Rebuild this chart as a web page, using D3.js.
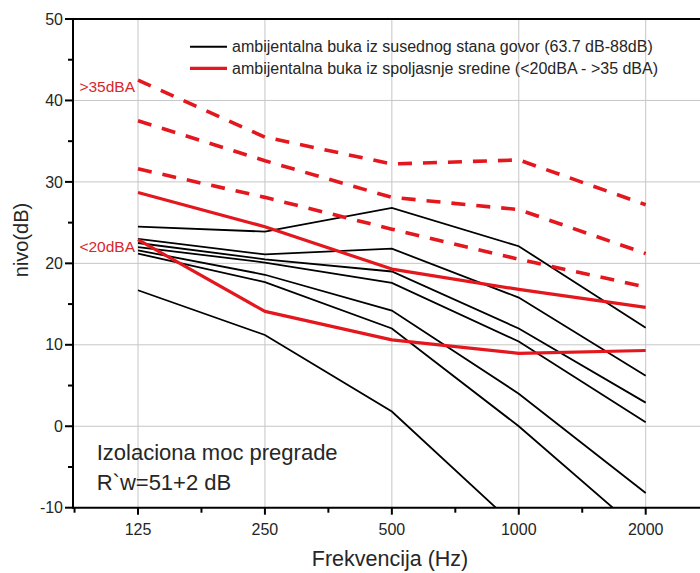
<!DOCTYPE html>
<html>
<head>
<meta charset="utf-8">
<script src="https://cdn.jsdelivr.net/npm/d3@7"></script>
<style>
  html, body { margin: 0; padding: 0; background: #fff; }
  svg { display: block; font-family: "Liberation Sans", Arial, sans-serif; }
</style>
</head>
<body>
<svg id="chart" width="700" height="573"></svg>
<script>
// ---- data ----
const freqs = [125, 250, 500, 1000, 2000];
const xTickLabels = ["125", "250", "500", "1000", "2000"];
const yTicks = [-10, 0, 10, 20, 30, 40, 50];

// black lines: neighbour apartment speech (63.7 dB - 88 dB)
const blackA = [24.5, 23.9, 26.8, 22.1, 12.1];
const blackB = [23.0, 21.1, 21.8, 15.8, 6.2];
const blackC = [22.5, 20.5, 19.0, 12.0, 2.9];
const blackD = [22.0, 20.1, 17.6, 10.4, 0.5];
const blackE = [21.6, 18.6, 14.2, 4.0, -8.2];
const blackF = [21.2, 17.7, 12.0, 0.0, -13.5];
const blackG = [16.7, 11.2, 1.8, -12.6, -27.0];

// red solid lines: outdoor ambient noise
const redSolidTop = [28.7, 24.5, 19.3, 16.8, 14.6];
const redSolidLow = [22.9, 14.1, 10.6, 8.95, 9.3];

// red dashed lines
const redDashTop = [42.5, 35.5, 32.2, 32.7, 27.2];
const redDashMid = [37.5, 32.6, 28.1, 26.6, 21.2];
const redDashLow = [31.6, 28.1, 24.2, 20.5, 17.1];

const legendLabels = [
  "ambijentalna buka iz susednog stana govor (63.7 dB-88dB)",
  "ambijentalna buka iz spoljasnje sredine (<20dBA - >35 dBA)"
];

// ---- layout ----
const svg = d3.select("#chart");
const W = 700;
const pLeft = 73, pTop = 19, pBottom = 507.7, pRight = 760;
const red = "#e3171d";
const txt = "#262626";

const x = d3.scaleLog().base(2).domain([125, 2000]).range([138, 645.7]);
const y = d3.scaleLinear().domain([-10, 50]).range([pBottom, pTop]);

// clip
svg.append("defs").append("clipPath").attr("id", "clip")
  .append("rect").attr("x", pLeft).attr("y", pTop).attr("width", pRight - pLeft).attr("height", pBottom - pTop);

// grid
const grid = svg.append("g");
grid.selectAll("line.v").data(freqs).join("line")
  .attr("x1", d => x(d)).attr("x2", d => x(d))
  .attr("y1", pTop).attr("y2", pBottom)
  .attr("stroke", "#c6c6c6").attr("stroke-width", 1);
grid.selectAll("line.h").data(yTicks.filter(d => d > -10 && d < 50)).join("line")
  .attr("x1", pLeft).attr("x2", W)
  .attr("y1", d => y(d)).attr("y2", d => y(d))
  .attr("stroke", "#c6c6c6").attr("stroke-width", 1);

// lines
const plot = svg.append("g").attr("clip-path", "url(#clip)");
const pts = arr => arr.map((v, i) => [freqs[i], v]);
const lineLin = d3.line().x(d => x(d[0])).y(d => y(d[1]));

const blacks = [blackA, blackB, blackC, blackD, blackE, blackF, blackG];
plot.selectAll("path.black").data(blacks).join("path")
  .attr("d", d => lineLin(pts(d)))
  .attr("fill", "none").attr("stroke", "#000").attr("stroke-width", 1.8);

plot.selectAll("path.dash").data([redDashTop, redDashMid, redDashLow]).join("path")
  .attr("d", d => lineLin(pts(d)))
  .attr("fill", "none").attr("stroke", red).attr("stroke-width", 3.6)
  .attr("stroke-dasharray", "14,11");

plot.selectAll("path.redsolid").data([redSolidTop, redSolidLow]).join("path")
  .attr("d", d => lineLin(pts(d)))
  .attr("fill", "none").attr("stroke", red).attr("stroke-width", 3.2)
  .attr("stroke-linejoin", "round");

// axes frame
svg.append("line").attr("x1", pLeft).attr("x2", W).attr("y1", pTop).attr("y2", pTop)
  .attr("stroke", "#000").attr("stroke-width", 2);
svg.append("line").attr("x1", pLeft).attr("x2", W).attr("y1", pBottom).attr("y2", pBottom)
  .attr("stroke", "#000").attr("stroke-width", 2);
svg.append("line").attr("x1", pLeft).attr("x2", pLeft).attr("y1", pTop - 1).attr("y2", pBottom + 1)
  .attr("stroke", "#000").attr("stroke-width", 2);

// y ticks
const yMinor = d3.range(-5, 50, 10);
svg.selectAll("line.ymaj").data(yTicks).join("line")
  .attr("x1", pLeft - 8).attr("x2", pLeft).attr("y1", d => y(d)).attr("y2", d => y(d))
  .attr("stroke", "#000").attr("stroke-width", 2);
svg.selectAll("line.ymin").data(yMinor).join("line")
  .attr("x1", pLeft - 5).attr("x2", pLeft).attr("y1", d => y(d)).attr("y2", d => y(d))
  .attr("stroke", "#000").attr("stroke-width", 2);
svg.selectAll("text.ylab").data(yTicks).join("text")
  .attr("x", pLeft - 10).attr("y", d => y(d)).attr("dy", "0.35em")
  .attr("text-anchor", "end").attr("font-size", 16).attr("fill", txt)
  .text(d => d);

// x ticks
const xMinor = [125 / Math.SQRT2].concat(freqs.map(f => f * Math.SQRT2));
svg.selectAll("line.xmaj").data(freqs).join("line")
  .attr("x1", d => x(d)).attr("x2", d => x(d)).attr("y1", pBottom).attr("y2", pBottom + 7)
  .attr("stroke", "#000").attr("stroke-width", 2);
svg.selectAll("line.xmin").data(xMinor).join("line")
  .attr("x1", d => x(d)).attr("x2", d => x(d)).attr("y1", pBottom).attr("y2", pBottom + 5)
  .attr("stroke", "#000").attr("stroke-width", 2);
svg.selectAll("text.xlab").data(freqs).join("text")
  .attr("x", d => x(d)).attr("y", 535)
  .attr("text-anchor", "middle").attr("font-size", 16).attr("fill", txt)
  .text((d, i) => xTickLabels[i]);

// axis titles
svg.append("text").attr("x", 390).attr("y", 566).attr("text-anchor", "middle")
  .attr("font-size", 21.5).attr("fill", txt).text("Frekvencija (Hz)");
svg.append("text").attr("transform", "translate(28,240) rotate(-90)").attr("text-anchor", "middle")
  .attr("font-size", 20).attr("fill", txt).text("nivo(dB)");

// end labels
svg.append("text").attr("x", 135).attr("y", 91.5).attr("text-anchor", "end")
  .attr("font-size", 15.5).attr("fill", "#d8262c").text(">35dBA");
svg.append("text").attr("x", 135).attr("y", 252).attr("text-anchor", "end")
  .attr("font-size", 15.5).attr("fill", "#d8262c").text("<20dBA");

// annotation
svg.append("text").attr("x", 96.7).attr("y", 460).attr("font-size", 22).attr("fill", txt)
  .text("Izolaciona moc pregrade");
svg.append("text").attr("x", 96.7).attr("y", 490).attr("font-size", 22).attr("fill", txt)
  .text("R`w=51+2 dB");

// legend
const leg = svg.append("g");
const legY = [46.7, 68.3];
const legStyle = [{c: "#000", w: 2}, {c: red, w: 3.2}];
legendLabels.forEach((t, i) => {
  leg.append("line").attr("x1", 190).attr("x2", 227).attr("y1", legY[i]).attr("y2", legY[i])
    .attr("stroke", legStyle[i].c).attr("stroke-width", legStyle[i].w);
  leg.append("text").attr("x", 232).attr("y", legY[i]).attr("dy", "0.35em")
    .attr("font-size", 16).attr("fill", txt).text(t);
});
</script>
</body>
</html>
